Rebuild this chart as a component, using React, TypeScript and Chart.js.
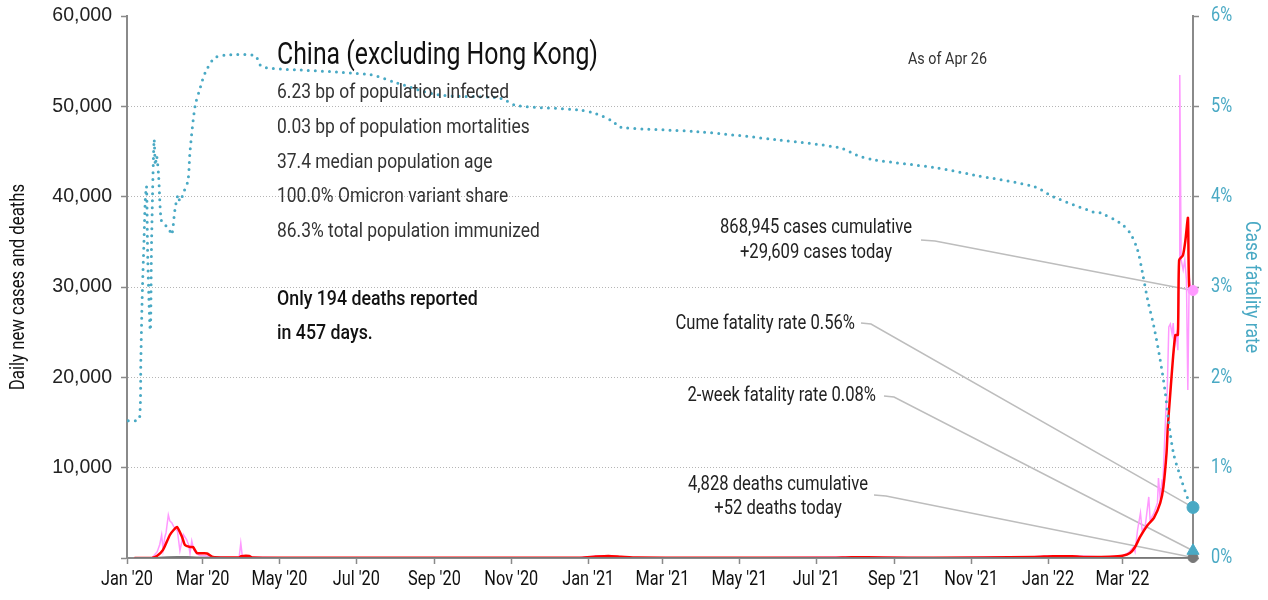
import React, { useEffect, useRef } from "react";
import { Chart, registerables } from "chart.js";

Chart.register(...registerables);

const NARROW = "Roboto, 'Liberation Sans', 'Noto Sans', sans-serif";
const WIDE = "'Liberation Sans', Arial, sans-serif";

const CYAN = "#49a9c4";
const PINK = "#ff99ff";
const RED = "#ff0000";
const GRAY = "#8a8a8a";

// x values are days since Jan 1, 2020
const END_DAY = 846;
const TICK_DAYS = [0, 60, 121, 182, 244, 305, 366, 425, 486, 547, 609, 670, 731, 790];
const TICK_LABELS = ["Jan '20", "Mar '20", "May '20", "Jul '20", "Sep '20", "Nov '20", "Jan '21", "Mar '21", "May '21", "Jul '21", "Sep '21", "Nov '21", "Jan '22", "Mar '22"];
const LEFT_TICKS = [0, 10000, 20000, 30000, 40000, 50000, 60000];
const RIGHT_TICKS = [0, 1, 2, 3, 4, 5, 6];

const CASES_DAILY_DAYS = [6, 20, 24, 26, 27.5, 28.6, 30, 31, 32.8, 34, 35.5, 37, 38, 40, 42, 44.7, 47.4, 49, 50, 51.4, 53, 55, 57.5, 62, 68, 75, 89, 90.3, 91.5, 100, 120, 200, 300, 360, 375, 380, 390, 400, 420, 500, 560, 575, 600, 650, 720, 735, 745, 760, 775, 785, 790, 795, 798.7, 800, 802, 804.3, 805.6, 808, 810.9, 812, 815, 817.8, 818.6, 820, 821.5, 822, 823.5, 824.5, 825.5, 826.8, 828, 829.4, 830.3, 831.3, 832.9, 834, 835, 835.5, 836.6, 838.2, 839.5, 840.8, 841.9, 843, 844.5, 846];
const CASES_DAILY = [0, 30, 700, 1500, 2550, 900, 2300, 2800, 4760, 4100, 3900, 3500, 3300, 3000, 800, 2600, 2000, 1400, 520, 1900, 900, 500, 300, 250, 100, 60, 80, 1650, 200, 80, 30, 20, 40, 50, 250, 220, 150, 60, 30, 20, 80, 120, 60, 40, 150, 250, 220, 180, 120, 200, 250, 600, 1200, 700, 3100, 4980, 3100, 3430, 6760, 4200, 4980, 6100, 8860, 6500, 8700, 7900, 13060, 16400, 18270, 25570, 25900, 24800, 26000, 23360, 24700, 23000, 33000, 53470, 33000, 31900, 33000, 30770, 18600, 31100, 29340, 29609];

const CASES_AVG_DAYS = [6, 20, 24, 28.6, 34, 37, 39.7, 43.7, 46, 50, 52.4, 55.6, 63.5, 68.3, 80, 89, 90.5, 97, 99.5, 130, 250, 360, 372, 382, 392, 405, 450, 560, 575, 600, 640, 720, 735, 750, 765, 780, 790, 796, 800, 804, 810, 815, 820, 822.5, 825, 826, 828, 830, 832, 834, 835, 838, 840, 842, 843, 846];
const CASES_AVG = [0, 20, 250, 890, 2550, 3100, 3430, 2330, 1440, 1220, 1220, 550, 500, 110, 60, 50, 200, 220, 50, 40, 30, 40, 160, 230, 150, 50, 30, 30, 90, 60, 30, 120, 200, 180, 110, 150, 250, 550, 1220, 2330, 3650, 4430, 6090, 7860, 11620, 14500, 18270, 21920, 24690, 24690, 32990, 33500, 35200, 37640, 30000, 29670];

const DEATHS_AVG_DAYS = [6, 25, 32, 40, 48, 55, 65, 80, 100, 846];
const DEATHS_AVG = [0, 40, 80, 110, 100, 60, 30, 10, 0, 0];

const CFR_DAYS = [1, 7, 10, 11, 12, 13.5, 14.5, 15.5, 16.5, 18.5, 19.5, 21.5, 22.5, 23.5, 25, 27, 29, 33, 35.5, 38, 40.5, 42, 45, 48.4, 50, 54, 58, 62, 70, 82, 101.6, 105.6, 109.6, 113.5, 193, 214, 246, 296, 309, 359, 372, 386, 391, 453, 516, 566, 579, 592, 642, 672, 720, 735, 767, 772.5, 788, 796, 802, 806, 810, 815, 820, 824, 826.5, 830.5, 836, 842.4, 846];
const CFR = [1.52, 1.52, 1.55, 2.2, 2.86, 3.52, 3.96, 4.11, 3.3, 2.52, 3.5, 4.63, 4.35, 4.45, 4.25, 3.75, 3.7, 3.65, 3.58, 3.85, 4.02, 3.95, 4.05, 4.18, 4.5, 5.0, 5.2, 5.37, 5.54, 5.57, 5.56, 5.46, 5.43, 5.42, 5.35, 5.26, 5.13, 5.09, 5.01, 4.96, 4.92, 4.83, 4.77, 4.72, 4.63, 4.54, 4.46, 4.41, 4.32, 4.24, 4.11, 4.0, 3.83, 3.82, 3.71, 3.6, 3.41, 3.15, 2.86, 2.56, 2.19, 1.83, 1.53, 1.16, 0.9, 0.64, 0.56];

const CASES_TODAY = 29609;
const DEATHS_TODAY = 52;
const CUME_CFR = 0.56;
const TWO_WEEK_CFR = 0.08;

const TITLE = "China (excluding Hong Kong)";
const STATS = [
  "6.23 bp of population infected",
  "0.03 bp of population mortalities",
  "37.4 median population age",
  "100.0% Omicron variant share",
  "86.3% total population immunized",
];
const NOTE = ["Only 194 deaths reported", "in 457 days."];
const AS_OF = "As of Apr 26";
const CASES_LABEL = ["868,945 cases cumulative", "+29,609 cases today"];
const CUME_LABEL = "Cume fatality rate 0.56%";
const TWO_WEEK_LABEL = "2-week fatality rate 0.08%";
const DEATHS_LABEL = ["4,828 deaths cumulative", "+52 deaths today"];
const LEFT_TITLE = "Daily new cases and deaths";
const RIGHT_TITLE = "Case fatality rate";

const pts = (xs: number[], ys: number[]) => xs.map((x, i) => ({ x, y: ys[i] }));

let SX = 0.8;

function drawText(
  ctx: CanvasRenderingContext2D,
  s: string,
  x: number,
  y: number,
  size: number,
  color: string,
  align: CanvasTextAlign = "left",
  weight = "400",
  rot = 0,
  widen = 1.07,
  family = NARROW
) {
  ctx.save();
  ctx.font = `${weight} ${size}px ${family}`;
  ctx.fillStyle = color;
  ctx.textBaseline = "middle";
  ctx.textAlign = align;
  ctx.translate(x, y);
  if (rot) ctx.rotate(rot);
  ctx.scale(family === NARROW ? SX * widen : widen, 1);
  ctx.fillText(s, 0, 0);
  ctx.restore();
}

const annotations = {
  id: "annotations",
  beforeDatasetsDraw(chart: any) {
    const { ctx, scales } = chart;
    const xs = scales.x, yl = scales.y, yr = scales.y1;
    const ex = xs.getPixelForValue(END_DAY);
    const lines: [number, number, number, number, number][] = [
      [921, 240, 935, ex, yl.getPixelForValue(CASES_TODAY)],
      [861, 323, 871, ex, yr.getPixelForValue(CUME_CFR)],
      [884, 396, 894, ex, yr.getPixelForValue(TWO_WEEK_CFR)],
      [874, 495, 886, ex, yl.getPixelForValue(DEATHS_TODAY)],
    ];
    ctx.save();
    ctx.strokeStyle = "#bdbdbd";
    ctx.lineWidth = 1.5;
    for (const [x0, y0, x1, x2, y2] of lines) {
      ctx.beginPath();
      ctx.moveTo(x0, y0);
      ctx.lineTo(x1, y0 + 1);
      ctx.lineTo(x2, y2);
      ctx.stroke();
    }
    ctx.restore();
  },
  afterDraw(chart: any) {
    const { ctx, scales, chartArea } = chart;
    ctx.save();
    ctx.font = `400 32px ${NARROW}`;
    SX = 321 / ctx.measureText(TITLE).width;
    ctx.restore();

    // axis tick labels
    const xs = scales.x, yl = scales.y, yr = scales.y1;
    TICK_DAYS.forEach((d, i) => drawText(ctx, TICK_LABELS[i], xs.getPixelForValue(d), 580, 21, "#111", "center", "400", 0, 1));
    LEFT_TICKS.forEach((v) => {
      if (v === 0) return;
      drawText(ctx, v.toLocaleString("en-US"), 112, yl.getPixelForValue(v), 19.5, "#222", "right", "400", 0, 1, WIDE);
    });
    RIGHT_TICKS.forEach((v) => drawText(ctx, `${v}%`, 1211, yr.getPixelForValue(v), 21, CYAN, "left", "400", 0, 1));
    const mid = (chartArea.top + chartArea.bottom) / 2;
    drawText(ctx, LEFT_TITLE, 19, mid, 20, "#111", "center", "400", -Math.PI / 2, 1.08);
    drawText(ctx, RIGHT_TITLE, 1251, mid, 21, CYAN, "center", "400", Math.PI / 2, 1.08);

    // text block
    drawText(ctx, TITLE, 277, 56, 32, "#111", "left", "400", 0, 1);
    STATS.forEach((s, i) => drawText(ctx, s, 277, 93 + i * 34.7, 21, "#333"));
    drawText(ctx, NOTE[0], 277, 300, 21, "#111", "left", "500", 0, 1.09);
    drawText(ctx, NOTE[1], 277, 334, 21, "#111", "left", "500", 0, 1.09);
    drawText(ctx, AS_OF, 908, 60, 16.5, "#333", "left", "400", 0, 1.12);

    drawText(ctx, CASES_LABEL[0], 816, 228, 20, "#222", "center");
    drawText(ctx, CASES_LABEL[1], 816, 253, 20, "#222", "center");
    drawText(ctx, DEATHS_LABEL[0], 778, 485, 20, "#222", "center");
    drawText(ctx, DEATHS_LABEL[1], 778, 509, 20, "#222", "center");
    drawText(ctx, CUME_LABEL, 855, 324, 20, "#222", "right");
    drawText(ctx, TWO_WEEK_LABEL, 876, 396, 20, "#222", "right");
  },
};

export default function App() {
  const ref = useRef<HTMLCanvasElement | null>(null);
  useEffect(() => {
    if (!ref.current) return;
    const chart = new Chart(ref.current, {
      type: "line",
      data: {
        datasets: [
          { label: "cfr-end", data: [{ x: END_DAY, y: CUME_CFR }], yAxisID: "y1", showLine: false, clip: false, pointRadius: 6, pointStyle: "circle", backgroundColor: CYAN, borderColor: CYAN },
          { label: "cfr2-end", data: [{ x: END_DAY, y: TWO_WEEK_CFR }], yAxisID: "y1", showLine: false, clip: false, pointRadius: 7, pointStyle: "triangle", backgroundColor: CYAN, borderColor: CYAN },
          { label: "cases-end", data: [{ x: END_DAY, y: CASES_TODAY }], yAxisID: "y", showLine: false, clip: false, pointRadius: 5, backgroundColor: PINK, borderColor: PINK },
          { label: "deaths-end", data: [{ x: END_DAY, y: DEATHS_TODAY }], yAxisID: "y", showLine: false, clip: false, pointRadius: 5, backgroundColor: "#777", borderColor: "#777" },
          { label: "CFR", data: pts(CFR_DAYS, CFR), yAxisID: "y1", borderColor: CYAN, borderWidth: 3, borderDash: [0, 7], borderCapStyle: "round", pointRadius: 0, tension: 0.3, fill: false },
          { label: "deaths avg", data: pts(DEATHS_AVG_DAYS, DEATHS_AVG), yAxisID: "y", borderColor: "#777", borderWidth: 2, pointRadius: 0 },
          { label: "cases avg", data: pts(CASES_AVG_DAYS, CASES_AVG), yAxisID: "y", borderColor: RED, borderWidth: 2.5, pointRadius: 0, tension: 0.2 },
          { label: "cases daily", data: pts(CASES_DAILY_DAYS, CASES_DAILY), yAxisID: "y", borderColor: PINK, borderWidth: 1.5, pointRadius: 0 },
        ],
      },
      options: {
        animation: false,
        responsive: false,
        layout: { padding: { top: 16, left: 0, right: 0, bottom: 0 } },
        plugins: { legend: { display: false }, tooltip: { enabled: false } },
        scales: {
          x: {
            type: "linear",
            min: 0,
            max: END_DAY,
            afterBuildTicks: (s: any) => { s.ticks = TICK_DAYS.map((v) => ({ value: v })); },
            afterFit: (s: any) => { s.height = 42; },
            ticks: { display: false },
            grid: { drawOnChartArea: false, drawTicks: true, tickLength: 6, tickColor: GRAY, tickWidth: 1.5 },
            border: { color: GRAY, width: 2 },
          },
          y: {
            position: "left",
            min: 0,
            max: 60000,
            afterBuildTicks: (s: any) => { s.ticks = LEFT_TICKS.map((v) => ({ value: v })); },
            afterFit: (s: any) => { s.width = 127; },
            ticks: { display: false },
            grid: {
              color: (c: any) => (c.tick && (c.tick.value === 0 || c.tick.value === 60000) ? "rgba(0,0,0,0)" : "#b5b5b5"),
              lineWidth: 1,
              drawTicks: true,
              tickLength: 6,
              tickColor: GRAY,
              tickWidth: 1.5,
              tickBorderDash: [],
            },
            border: { color: GRAY, width: 2, dash: [1, 2] },
          },
          y1: {
            position: "right",
            min: 0,
            max: 6,
            afterBuildTicks: (s: any) => { s.ticks = RIGHT_TICKS.map((v) => ({ value: v })); },
            afterFit: (s: any) => { s.width = 75; },
            ticks: { display: false },
            grid: { drawOnChartArea: false, drawTicks: true, tickLength: 6, tickColor: GRAY, tickWidth: 1.5 },
            border: { color: GRAY, width: 2 },
          },
        },
      },
      plugins: [annotations],
    } as any);
    return () => chart.destroy();
  }, []);
  return (
    <div style={{ position: "fixed", left: 0, top: 0, width: 1268, height: 600, background: "#fff" }}>
      <canvas ref={ref} width={1268} height={600} style={{ display: "block" }} />
    </div>
  );
}
